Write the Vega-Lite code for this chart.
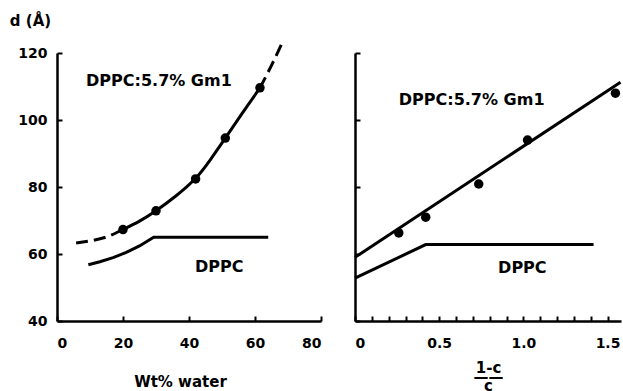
{
  "$schema": "https://vega.github.io/schema/vega-lite/v6.json",
  "padding": {"left": 9, "top": 13, "right": 0, "bottom": 0},
  "bounds": "flush",
  "spacing": 34,
  "config": {
    "view": {"stroke": null},
    "axis": {
      "domainColor": "black", "domainWidth": 2.5, "tickColor": "black", "tickWidth": 2, "tickSize": -5,
      "grid": false, "labelFont": "DejaVu Sans", "labelFontWeight": "bold", "labelFontSize": 14, "labelColor": "black",
      "titleFont": "DejaVu Sans", "titleFontWeight": "bold", "titleFontSize": 15, "titleColor": "black"
    },
    "text": {"font": "DejaVu Sans", "fontWeight": "bold", "fontSize": 16, "align": "left", "baseline": "middle", "color": "black"}
  },
  "datasets": {
    "leftCurve": [
      {"x": 20, "y": 67.3}, {"x": 25, "y": 69.8}, {"x": 30, "y": 72.9}, {"x": 36, "y": 77.3}, {"x": 42, "y": 82.6},
      {"x": 46.5, "y": 88.2}, {"x": 51, "y": 94.6}, {"x": 56, "y": 101.8}, {"x": 61.5, "y": 109.6}
    ],
    "leftDash": [
      {"seg": "a", "x": 5.8, "y": 63.3}, {"seg": "a", "x": 10, "y": 63.9}, {"seg": "a", "x": 15, "y": 65.1}, {"seg": "a", "x": 20, "y": 67.3},
      {"seg": "b", "x": 61.5, "y": 109.6}, {"seg": "b", "x": 65, "y": 116.3}, {"seg": "b", "x": 68.5, "y": 123.6}
    ],
    "leftPoints": [
      {"x": 20, "y": 67.3}, {"x": 30, "y": 72.9}, {"x": 42, "y": 82.4}, {"x": 51, "y": 94.6}, {"x": 61.5, "y": 109.6}
    ],
    "leftDPPC": [
      {"x": 9.5, "y": 56.8}, {"x": 13, "y": 57.7}, {"x": 17, "y": 58.9}, {"x": 21, "y": 60.5}, {"x": 25, "y": 62.4}, {"x": 29.3, "y": 65}, {"x": 64, "y": 65}
    ],
    "leftLabels": [
      {"x": 8.8, "y": 111.6, "label": "DPPC:5.7% Gm1"},
      {"x": 41.8, "y": 56, "label": "DPPC"}
    ],
    "rightLine": [{"x": 0, "y": 59}, {"x": 1.577, "y": 111.3}],
    "rightPoints": [
      {"x": 0.26, "y": 66.3}, {"x": 0.42, "y": 71}, {"x": 0.735, "y": 80.9}, {"x": 1.025, "y": 94}, {"x": 1.547, "y": 108}
    ],
    "rightDPPC": [{"x": 0, "y": 52.8}, {"x": 0.42, "y": 62.8}, {"x": 1.417, "y": 62.8}],
    "rightLabels": [
      {"x": 0.26, "y": 106, "label": "DPPC:5.7% Gm1"},
      {"x": 0.85, "y": 55.8, "label": "DPPC"}
    ]
  },
  "hconcat": [
    {
      "width": 264,
      "height": 268,
      "encoding": {
        "x": {"field": "x", "type": "quantitative", "scale": {"domain": [0, 80], "nice": false},
              "axis": {"values": [0, 20, 40, 60, 80], "title": "Wt% water", "titleBaseline": "middle", "titleY": 60, "labelPadding": 20, "titleX": 123}},
        "y": {"field": "y", "type": "quantitative", "scale": {"domain": [40, 120], "nice": false},
              "axis": {"values": [40, 60, 80, 100, 120], "title": "d (Å)", "titleAngle": 0, "titleAlign": "center", "titleBaseline": "middle", "titleX": -27, "titleY": -33, "labelPadding": 15}}
      },
      "layer": [
        {"data": {"name": "leftCurve"}, "mark": {"type": "line", "interpolate": "natural", "color": "black", "strokeWidth": 3}},
        {"data": {"name": "leftDash"}, "mark": {"type": "line", "interpolate": "natural", "color": "black", "strokeWidth": 3, "strokeDash": [12, 6]},
         "encoding": {"detail": {"field": "seg"}}},
        {"data": {"name": "leftPoints"}, "mark": {"type": "point", "filled": true, "color": "black", "opacity": 1, "size": 90}},
        {"data": {"name": "leftDPPC"}, "mark": {"type": "line", "color": "black", "strokeWidth": 3}},
        {"data": {"name": "leftLabels"}, "mark": {"type": "text"}, "encoding": {"text": {"field": "label"}}}
      ]
    },
    {
      "width": 266,
      "height": 268,
      "encoding": {
        "x": {"field": "x", "type": "quantitative", "scale": {"domain": [0, 1.58], "nice": false},
              "axis": {"values": [0, 0.1, 0.2, 0.3, 0.4, 0.5, 0.6, 0.7, 0.8, 0.9, 1.0, 1.1, 1.2, 1.3, 1.4, 1.5],
                       "labelExpr": "datum.value == 0 ? '0' : (abs(datum.value * 2 - round(datum.value * 2)) < 0.001 ? format(datum.value, '.1f') : '')",
                       "labelPadding": 20, "title": ["1-c", "——", "c"], "titleLineHeight": 9, "titleBaseline": "alphabetic", "titleY": 51}},
        "y": {"field": "y", "type": "quantitative", "scale": {"domain": [40, 120], "nice": false},
              "axis": {"values": [40, 60, 80, 100, 120], "labels": false, "title": null}}
      },
      "layer": [
        {"data": {"name": "rightLine"}, "mark": {"type": "line", "color": "black", "strokeWidth": 3}},
        {"data": {"name": "rightPoints"}, "mark": {"type": "point", "filled": true, "color": "black", "opacity": 1, "size": 90}},
        {"data": {"name": "rightDPPC"}, "mark": {"type": "line", "color": "black", "strokeWidth": 3}},
        {"data": {"name": "rightLabels"}, "mark": {"type": "text"}, "encoding": {"text": {"field": "label"}}}
      ]
    }
  ]
}
